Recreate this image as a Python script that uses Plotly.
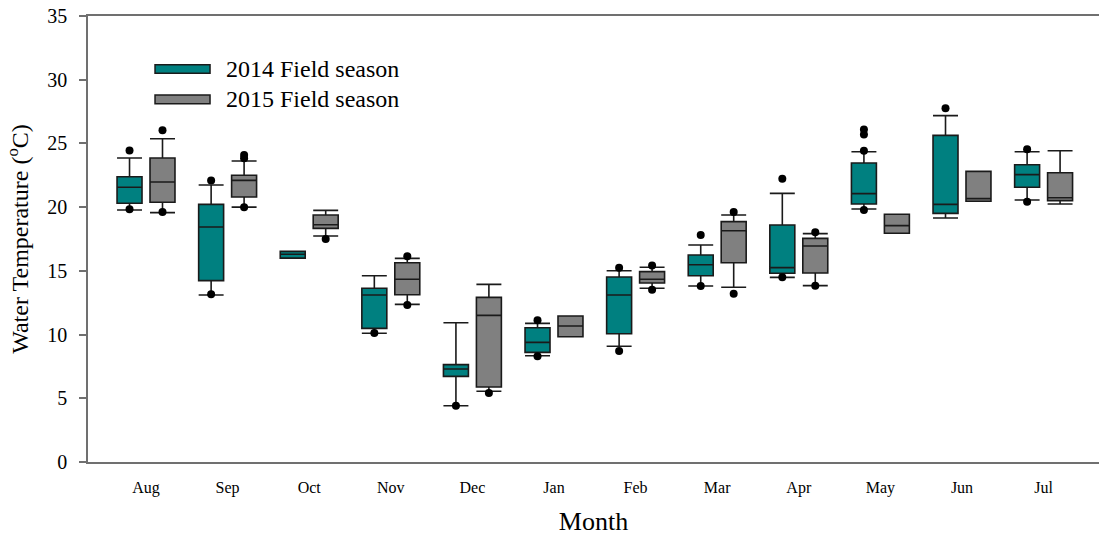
import plotly.graph_objects as go

# Monthly water temperature summaries (°C) for two field seasons
months = ["Aug", "Sep", "Oct", "Nov", "Dec", "Jan", "Feb", "Mar", "Apr", "May", "Jun", "Jul"]

# 2014 field season
q1_2014 = [20.3, 14.23, 16.0, 10.49, 6.72, 8.6, 10.07, 14.62, 14.81, 20.25, 19.51, 21.56]
median_2014 = [21.56, 18.44, 16.3, 13.1, 7.3, 9.39, 13.1, 15.48, 15.25, 21.06, 20.22, 22.55]
q3_2014 = [22.39, 20.22, 16.53, 13.63, 7.64, 10.54, 14.52, 16.24, 18.6, 23.46, 25.63, 23.33]
low_2014 = [19.78, 13.1, 16.0, 10.1, 4.42, 8.34, 9.08, 13.81, 14.49, 19.85, 19.15, 20.56]
high_2014 = [23.86, 21.74, 16.53, 14.62, 10.93, 10.88, 15.01, 17.03, 21.08, 24.35, 27.18, 24.35]
outlier_month_2014 = ["Aug", "Aug", "Sep", "Sep", "Nov", "Dec", "Jan", "Jan", "Feb", "Feb",
                      "Mar", "Mar", "Apr", "Apr", "May", "May", "May", "May", "Jun", "Jul", "Jul"]
outlier_value_2014 = [24.45, 19.83, 22.1, 13.16, 10.12, 4.42, 11.12, 8.29, 15.25, 8.71,
                      17.81, 13.81, 22.23, 14.5, 26.1, 25.7, 24.43, 19.78, 27.76, 24.54, 20.43]

# 2015 field season
q1_2015 = [20.38, 20.8, 18.33, 13.13, 5.89, 9.83, 14.05, 15.64, 14.83, 17.95, 20.46, 20.51]
median_2015 = [21.97, 22.1, 18.62, 14.34, 11.51, 10.67, 14.34, 18.15, 16.95, 18.55, 20.67, 20.74]
q3_2015 = [23.86, 22.5, 19.38, 15.64, 12.92, 11.46, 14.94, 18.86, 17.55, 19.44, 22.81, 22.7]
low_2015 = [19.57, 20.0, 17.73, 12.37, 5.55, 9.83, 13.63, 13.71, 13.84, 17.95, 20.46, 20.25]
high_2015 = [25.37, 23.62, 19.75, 15.98, 13.94, 11.46, 15.28, 19.38, 17.92, 19.44, 22.81, 24.43]
outlier_month_2015 = ["Aug", "Aug", "Sep", "Sep", "Sep", "Oct", "Nov", "Nov", "Dec",
                      "Feb", "Feb", "Mar", "Mar", "Apr", "Apr"]
outlier_value_2015 = [26.03, 19.62, 24.09, 23.83, 20.0, 17.5, 16.14, 12.32, 5.41,
                      15.43, 13.52, 19.62, 13.21, 18.02, 13.84]

series_names = ["2014 Field season", "2015 Field season"]
tick_values_y = [0, 5, 10, 15, 20, 25, 30, 35]

TEAL = "#008080"
GREY = "#808080"
EDGE = "#1a1a1a"
FONT = "Liberation Serif"
OFFSET = 0.202
BOX_W = 0.306

idx = {m: i for i, m in enumerate(months)}

fig = go.Figure()

seasons = [
    (q1_2014, median_2014, q3_2014, low_2014, high_2014, outlier_month_2014, outlier_value_2014, TEAL, -OFFSET),
    (q1_2015, median_2015, q3_2015, low_2015, high_2015, outlier_month_2015, outlier_value_2015, GREY, OFFSET),
]

for name, (q1, med, q3, lo, hi, om, ov, color, off) in zip(series_names, seasons):
    xpos = [i + off for i in range(len(months))]
    fig.add_trace(go.Box(
        name=name, x=xpos, q1=q1, median=med, q3=q3,
        lowerfence=lo, upperfence=hi,
        width=BOX_W, whiskerwidth=1,
        fillcolor=color, line=dict(color=EDGE, width=1.6),
        boxpoints=False, showlegend=False, hoverinfo="skip",
    ))
    fig.add_trace(go.Scatter(
        x=[idx[m] + off for m in om], y=ov, mode="markers",
        marker=dict(color="black", size=8),
        showlegend=False, hoverinfo="skip",
    ))

# Legend drawn as wide swatches with labels
legend_rows = [(0.8908, 0.8716, 0.882, TEAL), (0.823, 0.803, 0.813, GREY)]
for name, (y0, y1, yt, color) in zip(series_names, legend_rows):
    fig.add_shape(type="rect", xref="paper", yref="paper",
                  x0=0.0663, x1=0.1207, y0=y1, y1=y0,
                  fillcolor=color, line=dict(color=EDGE, width=1.5))
    fig.add_annotation(xref="paper", yref="paper", x=0.1345, y=yt,
                       text=name, showarrow=False, xanchor="left", yanchor="middle",
                       font=dict(family=FONT, size=24, color="black"))

fig.update_layout(
    width=1099, height=538,
    margin=dict(l=88, r=0, t=16, b=76),
    paper_bgcolor="white", plot_bgcolor="white",
    boxmode="overlay",
    font=dict(family=FONT, color="black"),
    xaxis=dict(
        range=[-0.711, 11.679],
        tickmode="array", tickvals=list(range(len(months))), ticktext=months,
        tickfont=dict(family=FONT, size=16, color="black"),
        showline=True, linecolor="#707070", linewidth=1.5, mirror=True,
        ticks="", showgrid=False, zeroline=False,
        ticklabelstandoff=10,
        title=dict(text="Month", font=dict(family=FONT, size=26, color="black"), standoff=16),
    ),
    yaxis=dict(
        range=[0, 35],
        tickmode="array", tickvals=tick_values_y,
        tickfont=dict(family=FONT, size=20, color="black"),
        showline=True, linecolor="#707070", linewidth=1.5,
        ticks="outside", ticklen=7, tickcolor="#707070", tickwidth=1.5,
        ticklabelstandoff=8,
        showgrid=False, zeroline=False,
        title=dict(text="Water Temperature (<sup>o</sup>C)",
                   font=dict(family=FONT, size=24, color="black"), standoff=12),
    ),
)

fig.write_html("out.html")
